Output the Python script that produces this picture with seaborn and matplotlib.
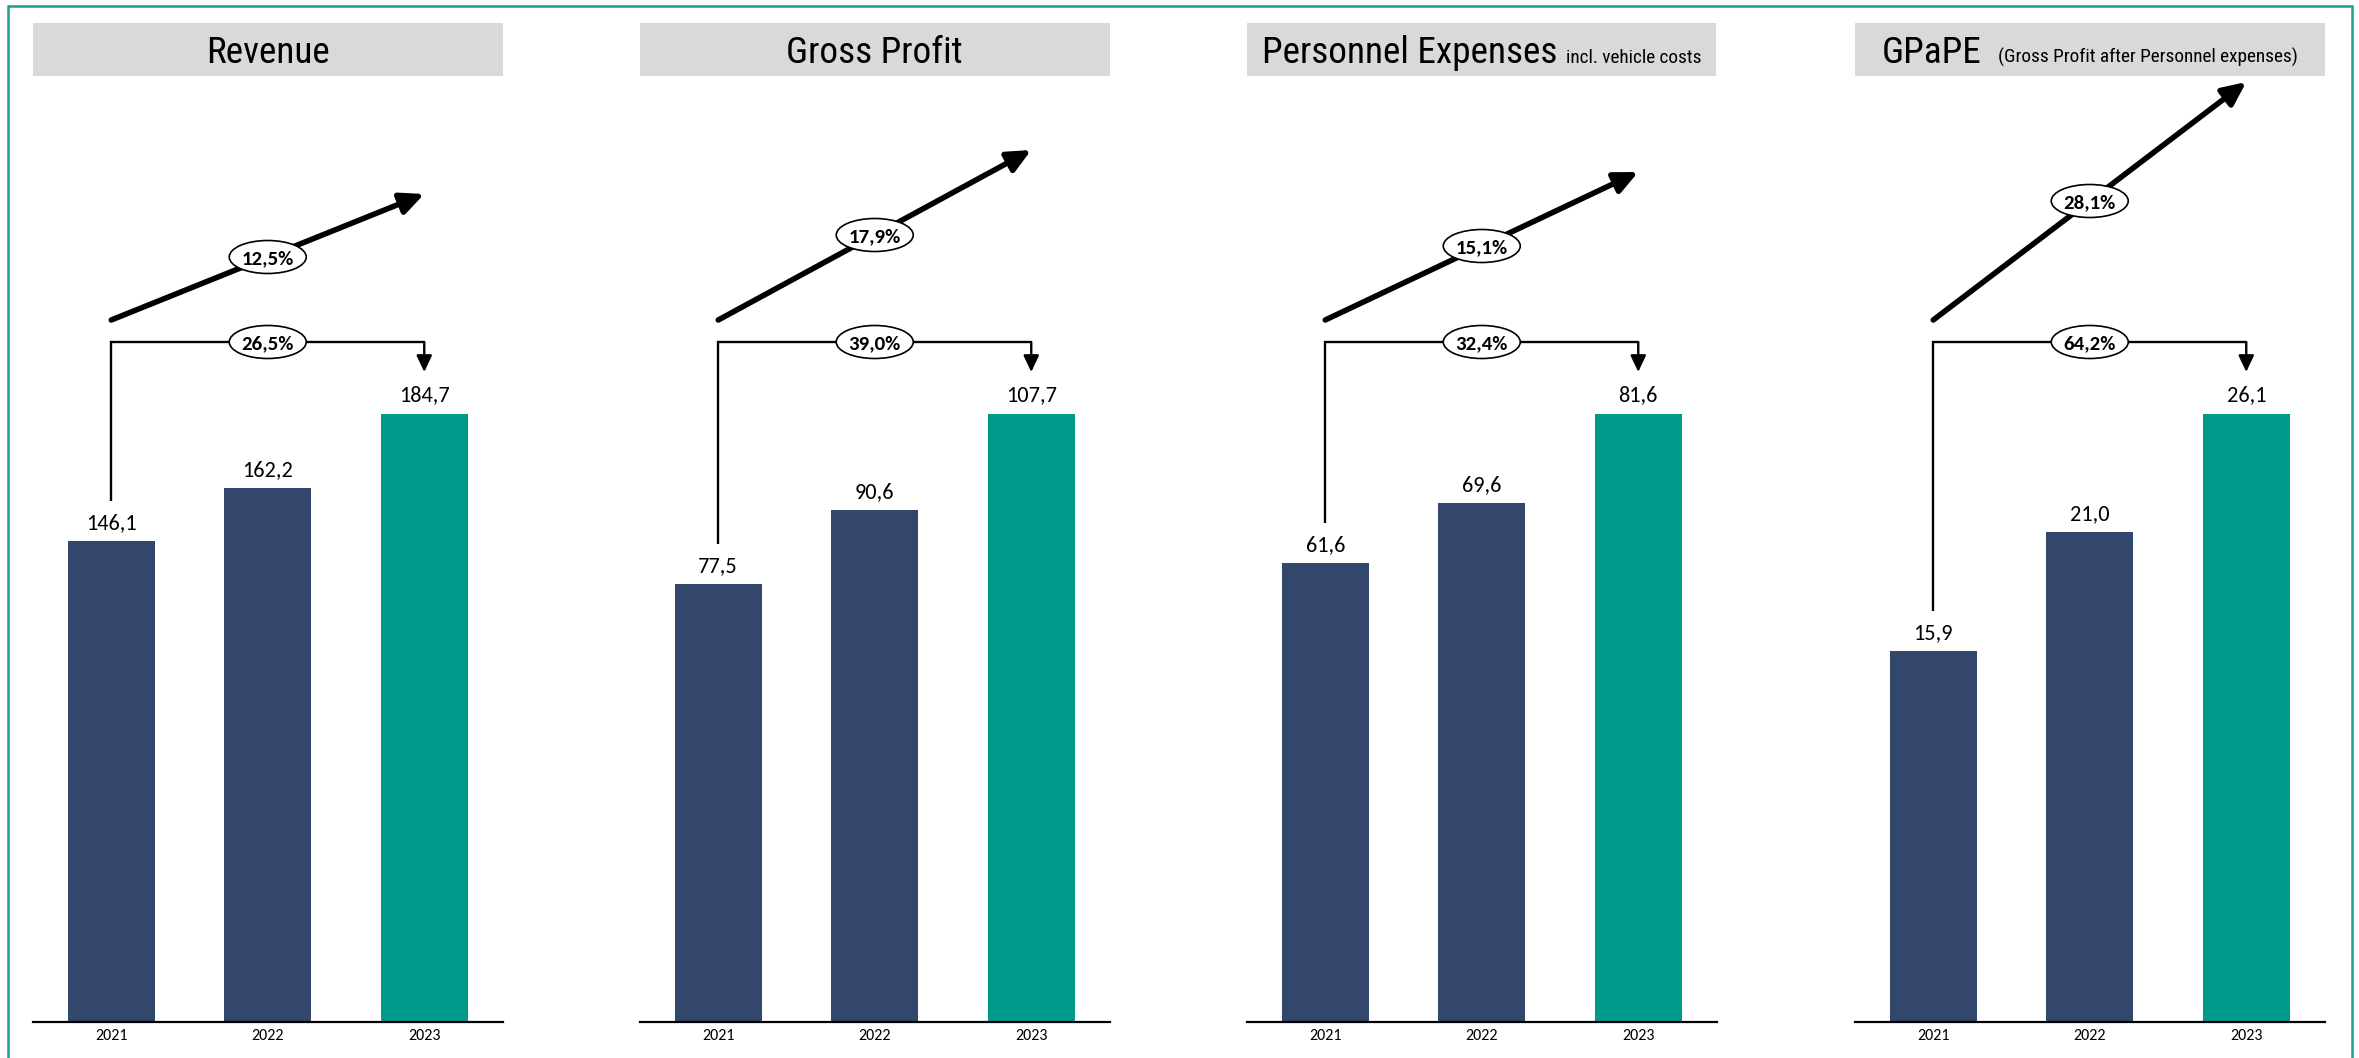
import matplotlib
matplotlib.use("Agg")
import matplotlib.pyplot as plt
from matplotlib.patches import Rectangle, Ellipse
import seaborn as sns
import pandas as pd

# ---------------- data ----------------
years = ["2021", "2022", "2023"]
revenue = [146.1, 162.2, 184.7]
gross_profit = [77.5, 90.6, 107.7]
personnel_expenses = [61.6, 69.6, 81.6]
gpape = [15.9, 21.0, 26.1]
titles = ["Revenue", "Gross Profit", "Personnel Expenses", "GPaPE"]
subtitles = ["", "", "incl. vehicle costs", "(Gross Profit after Personnel expenses)"]
cagr_pct = [12.5, 17.9, 15.1, 28.1]
total_growth_pct = [26.5, 39.0, 32.4, 64.2]

# ---------------- style / layout ----------------
NAVY = "#33466B"
TEAL = "#009A8C"
BORDER = "#1A9E8F"
GREY = "#D9D9D9"
W, H = 2359, 1058
panel_left = [33, 640, 1247, 1855]
panel_w = 469.5
slot_px = panel_w / 3
baseline_px = 1022
ax_top_px = 80
bar_px = 608.5            # pixel height of the tallest bar
title_top, title_bot = 23, 75.5
title_baseline = 63
title_width_px = [122, 162, 295, 109]      # measured widths of main titles
sub_width_px = [0, 0, 137, 299]
sub_gap = [0, 0, 9, 17]
bracket_px = 680
tip_px = 650
diag_start_px = 702
diag_end_px = [828, 872, 850, 940]
ell_w_px, ell_h_px = 77, 33

sns.set_style("white")
plt.rcParams["font.family"] = ["Carlito", "DejaVu Sans"]
TITLE_FONT = ["Roboto Condensed", "DejaVu Sans"]

fig = plt.figure(figsize=(W / 100, H / 100), dpi=100)
fig.patch.set_facecolor("white")
renderer = fig.canvas.get_renderer()


def fmt(v):
    return f"{v:.1f}".replace(".", ",")


# pick one title size and one subtitle size that fit the measured widths
def fit_size(texts, widths, base):
    ratios = []
    for t, w in zip(texts, widths):
        if t and w:
            tt = fig.text(0, 0, t, fontsize=base, family=TITLE_FONT)
            ratios.append(w / tt.get_window_extent(renderer).width)
            tt.remove()
    return base * sum(ratios) / len(ratios)


title_size = fit_size(titles, title_width_px, 27)
sub_size = fit_size(subtitles, sub_width_px, 15)

series = [revenue, gross_profit, personnel_expenses, gpape]


def pill(ax, x, y, text, u):
    ax.add_patch(Ellipse((x, y), ell_w_px / slot_px, ell_h_px * u,
                         facecolor="white", edgecolor="black", lw=1.2,
                         zorder=5, clip_on=False))
    ax.text(x, y, text, ha="center", va="center_baseline", fontsize=15,
            fontweight="bold", zorder=6, color="black")


for k, vals in enumerate(series):
    left = panel_left[k]
    ax = fig.add_axes([left / W, 1 - baseline_px / H, panel_w / W,
                       (baseline_px - ax_top_px) / H])
    df = pd.DataFrame({"year": years, "value": vals})
    sns.barplot(data=df, x="year", y="value", hue="year",
                palette=[NAVY, NAVY, TEAL], saturation=1, width=0.556,
                legend=False, ax=ax, linewidth=0)
    vmax = max(vals)
    ax.set_xlim(-0.5, 2.5)
    ax.set_ylim(0, vmax * (baseline_px - ax_top_px) / bar_px)
    u = vmax / bar_px
    for s in ["top", "left", "right"]:
        ax.spines[s].set_visible(False)
    ax.spines["bottom"].set_color("black")
    ax.spines["bottom"].set_linewidth(1.6)
    ax.set_yticks([])
    ax.set_xlabel("")
    ax.set_ylabel("")
    ax.tick_params(axis="x", length=0, pad=5, labelsize=11.5, labelcolor="black")
    ax.patch.set_alpha(0)

    bars = sorted(ax.patches, key=lambda p: p.get_x())
    xs = [p.get_x() + p.get_width() / 2 for p in bars]
    hs = [p.get_height() for p in bars]
    for x, h in zip(xs, hs):
        ax.text(x, h + 18 * u, fmt(h), ha="center", va="center",
                fontsize=16, color="black")

    x0, x2 = xs[0], xs[-1]
    xm = (x0 + x2) / 2
    # bracket with total growth
    yb = bracket_px * u
    ax.plot([x0, x0, x2], [hs[0] + 40 * u, yb, yb], color="black", lw=1.7,
            clip_on=False, solid_joinstyle="miter", solid_capstyle="butt")
    ax.annotate("", xy=(x2, tip_px * u), xytext=(x2, yb),
                arrowprops=dict(arrowstyle="-|>,head_length=1.0,head_width=0.47",
                                mutation_scale=10, lw=1.7, color="black",
                                shrinkA=0, shrinkB=0),
                annotation_clip=False)
    pill(ax, xm, yb, fmt(total_growth_pct[k]) + "%", u)
    # diagonal CAGR arrow
    ys, ye = diag_start_px * u, diag_end_px[k] * u
    ax.annotate("", xy=(x2, ye), xytext=(x0, ys),
                arrowprops=dict(arrowstyle="-|>,head_length=1.4,head_width=0.65",
                                mutation_scale=10, lw=4, color="black",
                                shrinkA=0, shrinkB=0),
                annotation_clip=False)
    pill(ax, xm, (ys + ye) / 2, fmt(cagr_pct[k]) + "%", u)

    # title box
    fig.patches.append(Rectangle((left / W, 1 - title_bot / H), panel_w / W,
                                 (title_bot - title_top) / H,
                                 transform=fig.transFigure, facecolor=GREY,
                                 edgecolor="none", zorder=0))
    t1 = fig.text(0, 1 - title_baseline / H, titles[k], fontsize=title_size,
                  family=TITLE_FONT, va="baseline", ha="left", color="black")
    w1 = t1.get_window_extent(renderer).width
    w2 = 0
    t2 = None
    if subtitles[k]:
        t2 = fig.text(0, 1 - title_baseline / H, subtitles[k], fontsize=sub_size,
                      family=TITLE_FONT, va="baseline", ha="left", color="black")
        w2 = t2.get_window_extent(renderer).width + sub_gap[k]
    start = left + (panel_w - w1 - w2) / 2
    t1.set_x(start / W)
    if t2 is not None:
        t2.set_x((start + w1 + sub_gap[k]) / W)

# outer teal frame (bottom edge lies outside the picture)
fig.patches.append(Rectangle((8 / W, -0.02), (2352 - 8) / W, 1 - 6 / H + 0.02,
                             transform=fig.transFigure, fill=False,
                             edgecolor=BORDER, lw=1.8, zorder=10))

fig.savefig("out.png", dpi=100, facecolor="white")
